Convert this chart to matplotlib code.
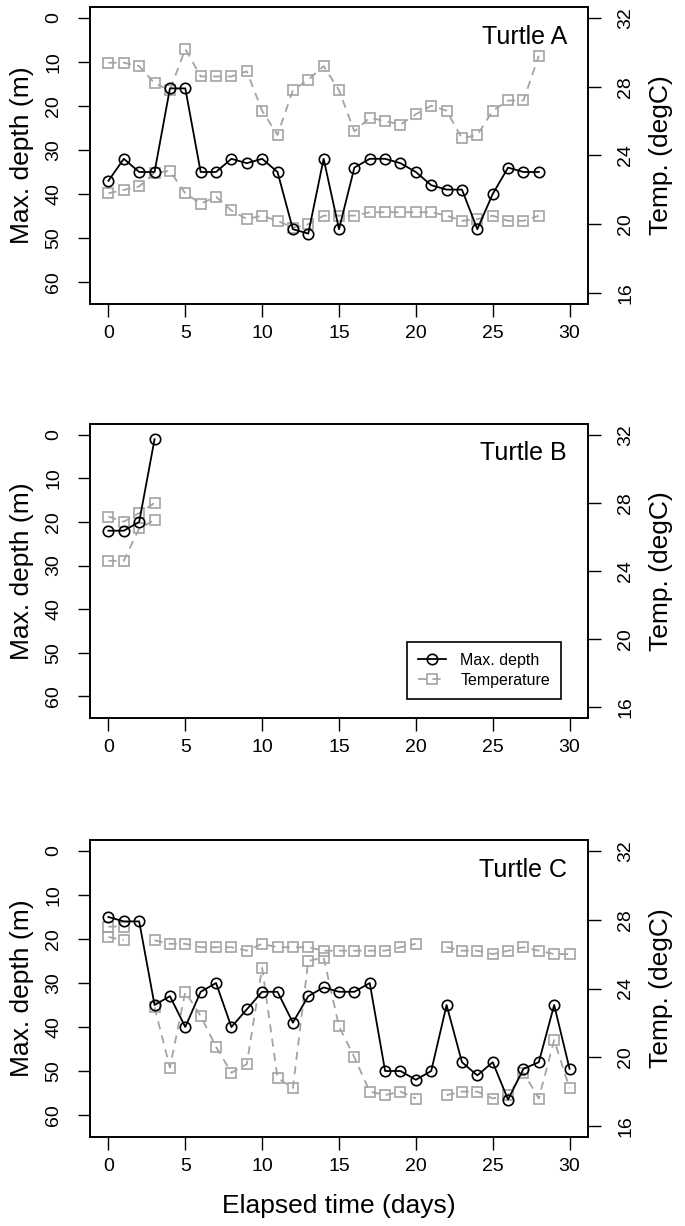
import matplotlib.pyplot as plt
import numpy as np

plt.rcParams['font.family'] = ['Liberation Sans', 'DejaVu Sans']

nan = np.nan

# Turtle A
days_a = list(range(29))
depth_a = [37, 32, 35, 35, 16, 16, 35, 35, 32, 33, 32, 35, 48, 49, 32, 48, 34, 32, 32, 33,
           35, 38, 39, 39, 48, 40, 34, 35, 35]
temp_hi_a = [29.4, 29.4, 29.2, 28.2, 27.8, 30.2, 28.6, 28.6, 28.6, 28.9, 26.6, 25.2, 27.8, 28.4,
             29.2, 27.8, 25.4, 26.2, 26.0, 25.8, 26.4, 26.9, 26.6, 25.0, 25.2, 26.6, 27.2, 27.2, 29.8]
temp_lo_a = [21.8, 22.0, 22.2, 23.0, 23.1, 21.8, 21.2, 21.6, 20.8, 20.3, 20.5, 20.2, 19.8, 20.0,
             20.5, 20.5, 20.5, 20.7, 20.7, 20.7, 20.7, 20.7, 20.5, 20.2, 20.3, 20.5, 20.2, 20.2, 20.5]

# Turtle B
days_b = [0, 1, 2, 3]
depth_b = [22, 22, 20, 1]
temp_hi_b = [27.2, 26.9, 27.4, 28.0]
temp_lo_b = [24.6, 24.6, 26.5, 27.0]

# Turtle C (no temperature on days 2 and 21)
days_c = list(range(31))
depth_c = [15, 16, 16, 35, 33, 40, 32, 30, 40, 36, 32, 32, 39, 33, 31, 32, 32, 30, 50, 50,
           52, 50, 35, 48, 51, 48, 56.5, 49.5, 48, 35, 49.5]
temp_hi_c = [27.6, 27.6, nan, 26.8, 26.6, 26.6, 26.4, 26.4, 26.4, 26.2, 26.6, 26.4, 26.4, 26.4,
             26.2, 26.2, 26.2, 26.2, 26.2, 26.4, 26.6, nan, 26.4, 26.2, 26.2, 26.0, 26.2, 26.4,
             26.2, 26.0, 26.0]
temp_lo_c = [27.0, 26.8, nan, 22.9, 19.4, 23.8, 22.4, 20.6, 19.1, 19.6, 25.2, 18.8, 18.2, 25.6,
             25.8, 21.8, 20.0, 18.0, 17.8, 18.0, 17.6, nan, 17.8, 18.0, 18.0, 17.6, 17.8, 19.1,
             17.6, 21.0, 18.2]

x_ticks = [0, 5, 10, 15, 20, 25, 30]
depth_ticks = [0, 10, 20, 30, 40, 50, 60]
temp_ticks = [16, 20, 24, 28, 32]

gray = "#a3a3a3"
tick_fs = 14
label_fs = 19


def style_axis(ax, pad):
    ax.tick_params(axis='y', direction='out', length=9, width=1, labelsize=tick_fs,
                   pad=pad, labelrotation=90)
    for lab in ax.get_yticklabels():
        lab.set_va('center')
    for s in ax.spines.values():
        s.set_linewidth(1.2)


def plot_turtle(top, bottom, days, depth, hi, lo, name, xlabel=False, legend=False):
    H = 1226.0
    W = 685.0
    ax = fig.add_axes([90 / W, 1 - bottom / H, 498 / W, (bottom - top) / H])
    ax2 = ax.twinx()

    ax2.plot(days, hi, color=gray, ls=(0, (4.5, 3.5)), lw=1.3, marker='s', ms=6.8,
             mfc='none', mec=gray, mew=1.2, label='Temperature')
    ax2.plot(days, lo, color=gray, ls=(0, (4.5, 3.5)), lw=1.3, marker='s', ms=6.8,
             mfc='none', mec=gray, mew=1.2)
    ax2.set_ylim(15.36, 32.64)
    ax2.set_yticks(temp_ticks)
    ax2.set_ylabel("Temp. (degC)", fontsize=label_fs, labelpad=11)

    ax.plot(days, depth, color='black', lw=1.3, marker='o', ms=7.5, mfc='none',
            mec='black', mew=1.2, label='Max. depth')
    ax.set_zorder(ax2.get_zorder() + 1)
    ax.patch.set_visible(False)

    ax.set_xlim(-1.2, 31.2)
    ax.set_xticks(x_ticks)
    ax.tick_params(axis='x', direction='out', length=9, width=1, labelsize=tick_fs, pad=6)
    ax.set_ylim(65, -2.5)
    ax.set_yticks(depth_ticks)
    ax.set_ylabel("Max. depth (m)", fontsize=label_fs, labelpad=8)
    style_axis(ax, 11)
    style_axis(ax2, 12)

    ax.text(0.958, 0.9, name, transform=ax.transAxes, ha='right', va='center', fontsize=18)

    if xlabel:
        ax.set_xlabel("Elapsed time (days)", fontsize=label_fs, labelpad=14)

    if legend:
        h1 = ax.get_lines()[0]
        h2 = ax2.get_lines()[0]
        leg = ax.legend([h1, h2], ['Max. depth', 'Temperature'], loc='lower right',
                        bbox_to_anchor=(0.946, 0.065), borderaxespad=0, fancybox=False,
                        edgecolor='black', fontsize=11.5, handlelength=1.75, framealpha=1,
                        borderpad=0.7, labelspacing=0.3, handletextpad=0.9)
        leg.get_frame().set_linewidth(1.2)
    return ax


fig = plt.figure(figsize=(6.85, 12.26), dpi=100)

plot_turtle(7, 304, days_a, depth_a, temp_hi_a, temp_lo_a, "Turtle A")
plot_turtle(424, 718, days_b, depth_b, temp_hi_b, temp_lo_b, "Turtle B", legend=True)
plot_turtle(840, 1137, days_c, depth_c, temp_hi_c, temp_lo_c, "Turtle C", xlabel=True)

fig.savefig("out.png", dpi=100)
